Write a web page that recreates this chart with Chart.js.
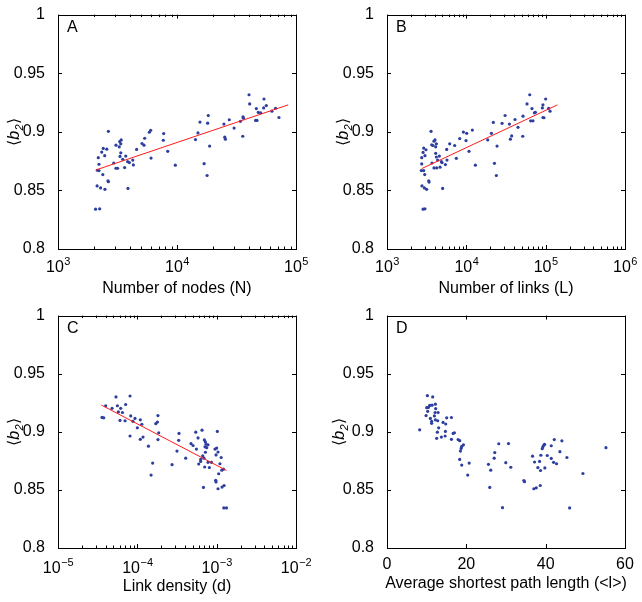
<!DOCTYPE html>
<html>
<head>
<meta charset="utf-8">
<script src="https://cdn.jsdelivr.net/npm/chart.js@4.4.1/dist/chart.umd.min.js"></script>
<style>
  html, body { margin: 0; padding: 0; background: #fff; }
  #wrap { position: relative; width: 642px; height: 602px; }
  canvas { position: absolute; }
</style>
</head>
<body>
<div id="wrap">
  <canvas id="cA" width="321" height="301" style="left:0;top:0"></canvas>
  <canvas id="cB" width="321" height="301" style="left:321px;top:0"></canvas>
  <canvas id="cC" width="321" height="301" style="left:0;top:301px"></canvas>
  <canvas id="cD" width="321" height="301" style="left:321px;top:301px"></canvas>
</div>
<script>
// y axis, shared by all panels
const yTicks = [0.8, 0.85, 0.9, 0.95, 1];

// A: number of nodes
const nodesN = [2650, 6010, 5850, 7730, 18300, 15600, 18100, 15000, 14300, 7670, 5350, 5080, 5280, 4580, 8360, 6050, 9680, 3400, 3300, 3370,
  3270, 3070, 2400, 2570, 2330, 2180, 2470, 3370, 3320, 3500, 3710, 3850, 3980, 4250, 4300, 3630, 3170, 3070, 2940, 2210,
  2140, 2210, 2380, 2630, 2650, 2130, 2280, 2480, 3870, 2070, 2240, 18800, 16900, 17900, 25200, 25500, 24800, 27500, 30200, 34100,
  35900, 35700, 36100, 40800, 46400, 45800, 47000, 48200, 50500, 53500, 56300, 62800, 67400, 71900, 40300, 53800];
const b2A = [0.9004, 0.9013, 0.8996, 0.8985, 0.9139, 0.9083, 0.9074, 0.8990, 0.8934, 0.8928, 0.8945, 0.8900, 0.8886, 0.8850, 0.8833, 0.8776, 0.8715, 0.8931, 0.8917, 0.8897,
  0.8872, 0.8886, 0.8858, 0.8852, 0.8827, 0.8779, 0.8796, 0.8821, 0.8790, 0.8765, 0.8793, 0.8745, 0.8737, 0.8759, 0.8717, 0.8695, 0.8689, 0.8689, 0.8734, 0.8723,
  0.8672, 0.8669, 0.8635, 0.8582, 0.8574, 0.8538, 0.8521, 0.8509, 0.8517, 0.8340, 0.8343, 0.8878, 0.8728, 0.8627, 0.8954, 0.8937, 0.9066, 0.9103, 0.9032, 0.9089,
  0.9128, 0.8962, 0.9116, 0.9238, 0.9198, 0.9097, 0.9097, 0.9165, 0.9162, 0.9204, 0.9224, 0.9176, 0.9201, 0.9122, 0.9316, 0.9280];
const fitAx = [2090, 86000];
const fitAy = [0.8675, 0.923];
const ticksA = [1e3, 1e4, 1e5];

// B: number of links
const linksL = [3590, 11900, 9180, 10100, 58200, 30800, 21900, 28200, 34900, 41100, 51800, 67200, 72100, 90900, 92400, 109000, 113500, 92400, 95200, 64700,
  69200, 74200, 44800, 37300, 35900, 51400, 20700, 18600, 24400, 22600, 23900, 13000, 10800, 9910, 8250, 7130, 6170, 5660, 7480, 5700,
  5450, 4940, 5030, 4190, 3910, 4030, 4110, 3800, 3660, 2900, 3100, 2850, 2740, 3010, 4110, 4190, 4570, 4350, 4850, 3690,
  2740, 3910, 4230, 4660, 2710, 2900, 2990, 3360, 3390, 2760, 2960, 3160, 2850, 3010, 63000, 100000];
const b2B = [0.9004, 0.9015, 0.8998, 0.8987, 0.9238, 0.9139, 0.9080, 0.9072, 0.9066, 0.9105, 0.9133, 0.9198, 0.9162, 0.9204, 0.9230, 0.9200, 0.9176, 0.9122, 0.9120, 0.9094,
  0.9094, 0.9167, 0.9038, 0.8965, 0.8937, 0.8962, 0.8987, 0.8931, 0.8878, 0.8731, 0.8627, 0.8715, 0.8833, 0.8925, 0.8942, 0.8883, 0.8897, 0.8850, 0.8774, 0.8759,
  0.8720, 0.8737, 0.8517, 0.8897, 0.8920, 0.8931, 0.8872, 0.8883, 0.8889, 0.8861, 0.8847, 0.8824, 0.8779, 0.8796, 0.8816, 0.8785, 0.8793, 0.8759, 0.8745, 0.8734,
  0.8726, 0.8692, 0.8692, 0.8698, 0.8669, 0.8669, 0.8635, 0.8582, 0.8571, 0.8538, 0.8521, 0.8509, 0.8340, 0.8343, 0.9316, 0.9280];
const fitBx = [2740, 140600];
const fitBy = [0.8686, 0.923];
const ticksB = [1e3, 1e4, 1e5, 1e6];

// C: link density
const densityD = [5.38e-5, 8.09e-5, 3.99e-5, 4.80e-5, 5.61e-5, 6.17e-5, 7.13e-5, 5.77e-5, 6.49e-5, 3.59e-5, 3.77e-5, 6.05e-5, 7.0e-5, 8.25e-5, 9.35e-5, 1.09e-4, 8.81e-5, 1.14e-4, 1.0e-4, 1.82e-4,
  1.79e-4, 1.71e-4, 1.86e-4, 1.82e-4, 8.09e-5, 1.18e-4, 1.09e-4, 1.38e-4, 1.56e-4, 1.49e-4, 2.74e-4, 3.16e-4, 3.35e-4, 3.32e-4, 4.07e-4, 4.75e-4, 5.04e-4, 5.45e-4, 6.54e-4, 5.82e-4,
  5.56e-4, 7.0e-4, 7.21e-4, 7.35e-4, 7.78e-4, 7.13e-4, 7.49e-4, 1.02e-3, 9.53e-4, 1.0e-3, 1.04e-3, 9.82e-4, 1.14e-3, 7.21e-4, 6.67e-4, 6.92e-4, 6.29e-4, 6.29e-4, 5.94e-4, 7.78e-4,
  8.59e-4, 1.10e-3, 7.06e-4, 8.09e-4, 1.16e-3, 1.22e-3, 1.06e-3, 9.73e-4, 9.82e-4, 1.24e-3, 1.17e-3, 1.04e-3, 6.81e-4, 1.23e-3, 1.33e-3];
const b2C = [0.930, 0.9308, 0.9224, 0.9202, 0.9224, 0.9202, 0.9235, 0.9171, 0.9166, 0.9124, 0.912, 0.9098, 0.9095, 0.9137, 0.9115, 0.9103, 0.909, 0.9065, 0.9034, 0.914,
  0.9084, 0.907, 0.8992, 0.8933, 0.8964, 0.8955, 0.8935, 0.8876, 0.8731, 0.8628, 0.8717, 0.8834, 0.8986, 0.8927, 0.8773, 0.8899, 0.8882, 0.8997, 0.9014, 0.8947,
  0.8851, 0.893, 0.8913, 0.8893, 0.8888, 0.8871, 0.8863, 0.9003, 0.8851, 0.886, 0.8826, 0.8801, 0.8779, 0.8824, 0.8792, 0.8773, 0.8762, 0.8745, 0.8723, 0.8737,
  0.8737, 0.8725, 0.8697, 0.8692, 0.867, 0.8678, 0.8639, 0.8582, 0.8569, 0.8538, 0.8524, 0.851, 0.8521, 0.8345, 0.8345];
const fitCx = [3.52e-5, 1.33e-3];
const fitCy = [0.923, 0.8667];
const ticksC = [1e-5, 1e-4, 1e-3, 1e-2];

// D: average shortest path length
const pathL = [10.18, 11.52, 8.24, 10.0, 10.43, 10.77, 11.36, 12.2, 12.28, 10.26, 12.12, 12.88, 9.85, 11.95, 10.93, 12.2, 12.78, 11.26, 11.26, 14.14,
  14.8, 15.05, 16.24, 13.03, 14.72, 12.7, 13.71, 14.65, 12.53, 16.67, 17.0, 16.24, 17.93, 18.33, 19.27, 18.84, 18.69, 18.51, 18.33, 20.71,
  18.84, 20.35, 28.18, 30.63, 27.17, 27.02, 25.58, 26.16, 29.95, 31.21, 25.91, 29.12, 34.5, 34.67, 37.02, 37.63, 38.64, 36.69, 37.2, 38.46,
  38.03, 38.71, 39.8, 38.79, 39.14, 39.3, 39.55, 39.72, 40.4, 41.41, 42.17, 41.41, 42.0, 42.75, 43.59, 44.09, 45.35, 49.39, 46.04, 55.2];
const b2D = [0.9311, 0.93, 0.9017, 0.9208, 0.921, 0.9227, 0.9229, 0.9238, 0.9199, 0.9176, 0.9166, 0.9166, 0.914, 0.9137, 0.9115, 0.9103, 0.9095, 0.909, 0.9073, 0.9081,
  0.9067, 0.912, 0.9123, 0.9034, 0.9003, 0.8997, 0.8955, 0.8964, 0.8944, 0.8986, 0.8992, 0.8935, 0.8933, 0.8924, 0.8888, 0.8874, 0.8857, 0.8834, 0.8762, 0.8731,
  0.8714, 0.8628, 0.8897, 0.8899, 0.8821, 0.8773, 0.872, 0.867, 0.8734, 0.8695, 0.8521, 0.8347, 0.858, 0.8571, 0.851, 0.8518, 0.8538, 0.879, 0.874, 0.8745,
  0.8692, 0.8667, 0.8689, 0.8798, 0.8855, 0.8871, 0.8885, 0.8893, 0.8796, 0.888, 0.8933, 0.8771, 0.8737, 0.8725, 0.8829, 0.8922, 0.8779, 0.8641, 0.8345, 0.8863];
const ticksD = [0, 20, 40, 60];

const FONT = '"Liberation Sans", Arial, Helvetica, sans-serif';
const W = 321, H = 301;

// minor ticks 2..9 between decades for log axes
function logTicks(majors) {
  const out = [];
  majors.forEach((m, i) => {
    out.push({ value: m, major: true });
    if (i < majors.length - 1) for (let k = 2; k <= 9; k++) out.push({ value: m * k, major: false });
  });
  return out;
}

// box, inward ticks, tick labels with superscripts, axis titles
const frame = {
  id: 'frame',
  afterDraw(chart, args, o) {
    const { ctx, chartArea: a } = chart;
    const xs = chart.scales.x, ys = chart.scales.y;
    ctx.save();
    ctx.strokeStyle = '#000';
    ctx.lineWidth = 1;
    ctx.strokeRect(Math.round(a.left) + 0.5, Math.round(a.top) + 0.5,
      Math.round(a.right - a.left), Math.round(a.bottom - a.top));
    ctx.beginPath();
    xs.ticks.forEach(t => {
      const p = Math.round(xs.getPixelForValue(t.value)) + 0.5;
      const len = t.major ? 4 : 2.5;
      ctx.moveTo(p, a.bottom); ctx.lineTo(p, a.bottom - len);
      ctx.moveTo(p, a.top); ctx.lineTo(p, a.top + len);
    });
    ys.ticks.forEach(t => {
      const p = Math.round(ys.getPixelForValue(t.value)) + 0.5;
      ctx.moveTo(a.left, p); ctx.lineTo(a.left + 4, p);
      ctx.moveTo(a.right, p); ctx.lineTo(a.right - 4, p);
    });
    ctx.stroke();

    ctx.fillStyle = '#000';
    ctx.textBaseline = 'alphabetic';
    // x tick labels
    xs.ticks.filter(t => t.major).forEach(t => {
      const p = xs.getPixelForValue(t.value);
      if (o.log) {
        const e = Math.round(Math.log10(t.value));
        const es = e < 0 ? '\u2212' + (-e) : String(e);
        ctx.font = '16px ' + FONT;
        const w1 = ctx.measureText('10').width;
        ctx.font = '11px ' + FONT;
        const w2 = ctx.measureText(es).width;
        const x0 = p - (w1 + w2) / 2;
        ctx.textAlign = 'left';
        ctx.font = '16px ' + FONT;
        ctx.fillText('10', x0, a.bottom + o.tickOff);
        ctx.font = '11px ' + FONT;
        ctx.fillText(es, x0 + w1 + 0.5, a.bottom + o.tickOff - 7);
      } else {
        ctx.textAlign = 'center';
        ctx.font = '16px ' + FONT;
        ctx.fillText(String(t.value), p, a.bottom + o.tickOff);
      }
    });
    // x title
    ctx.textAlign = 'center';
    ctx.font = '16px ' + FONT;
    ctx.fillText(o.xTitle, (a.left + a.right) / 2, a.bottom + o.titleOff);
    // panel letter
    ctx.textAlign = 'left';
    ctx.fillText(o.letter, a.left + 9, a.top + 17.5);
    // y title <b2>
    ctx.translate(a.left - o.yTitleOff, (a.top + a.bottom) / 2);
    ctx.rotate(-Math.PI / 2);
    const parts = [
      ['\u27E8', '16px ' + FONT, 0],
      ['b', 'italic 16px ' + FONT, 0],
      ['2', 'italic 11px ' + FONT, 4],
      ['\u27E9', '16px ' + FONT, 0]
    ];
    let tw = 0;
    parts.forEach(q => { ctx.font = q[1]; tw += ctx.measureText(q[0]).width + 0.5; });
    let cx = -tw / 2;
    parts.forEach(q => {
      ctx.font = q[1];
      ctx.fillText(q[0], cx, q[2]);
      cx += ctx.measureText(q[0]).width + 0.5;
    });
    ctx.restore();
  }
};

function panel(id, cfg) {
  const pts = cfg.xs.map((v, i) => ({ x: v, y: cfg.ys[i] }));
  const datasets = [];
  if (cfg.fx) {
    datasets.push({
      type: 'line', data: cfg.fx.map((v, i) => ({ x: v, y: cfg.fy[i] })),
      borderColor: '#ff1a1a', borderWidth: 1, pointRadius: 0, showLine: true, fill: false
    });
  }
  datasets.push({
    data: pts, pointStyle: 'circle', pointRadius: 1.6, pointBorderWidth: 0,
    backgroundColor: '#2d3f9e', borderColor: '#2d3f9e'
  });
  const xTickObjs = cfg.log ? logTicks(cfg.ticks) : cfg.ticks.map(v => ({ value: v, major: true }));
  new Chart(document.getElementById(id), {
    type: 'scatter',
    data: { datasets },
    options: {
      responsive: false,
      animation: false,
      events: [],
      layout: { padding: { left: 0, top: cfg.area.t, right: W - cfg.area.r, bottom: 0 } },
      plugins: {
        legend: { display: false },
        tooltip: { enabled: false },
        frame: { log: cfg.log, xTitle: cfg.xTitle, letter: cfg.letter, tickOff: cfg.tickOff, titleOff: cfg.titleOff, yTitleOff: cfg.yTitleOff }
      },
      scales: {
        x: {
          type: cfg.log ? 'logarithmic' : 'linear',
          min: cfg.ticks[0], max: cfg.ticks[cfg.ticks.length - 1],
          grid: { display: false }, border: { display: false },
          ticks: { display: false },
          afterBuildTicks: s => { s.ticks = xTickObjs.map(t => ({ value: t.value, major: t.major })); },
          afterFit: s => { s.height = H - cfg.area.b; }
        },
        y: {
          min: 0.8, max: 1,
          grid: { display: false }, border: { display: false },
          ticks: {
            color: '#000', padding: 5, autoSkip: false,
            font: { family: FONT, size: 16 },
            callback: v => String(Number(v.toFixed(2)))
          },
          afterBuildTicks: s => { s.ticks = yTicks.map(v => ({ value: v })); },
          afterFit: s => { s.width = cfg.area.l; }
        }
      }
    },
    plugins: [frame]
  });
}

panel('cA', { xs: nodesN, ys: b2A, fx: fitAx, fy: fitAy, log: true, ticks: ticksA, letter: 'A',
  xTitle: 'Number of nodes (N)', area: { l: 58, t: 12, r: 296, b: 249 }, tickOff: 23, titleOff: 44, yTitleOff: 39 });
panel('cB', { xs: linksL, ys: b2B, fx: fitBx, fy: fitBy, log: true, ticks: ticksB, letter: 'B',
  xTitle: 'Number of links (L)', area: { l: 66, t: 12, r: 304, b: 249 }, tickOff: 23, titleOff: 44, yTitleOff: 39 });
panel('cC', { xs: densityD, ys: b2C, fx: fitCx, fy: fitCy, log: true, ticks: ticksC, letter: 'C',
  xTitle: 'Link density (d)', area: { l: 58, t: 9, r: 296, b: 247 }, tickOff: 25, titleOff: 43, yTitleOff: 39 });
panel('cD', { xs: pathL, ys: b2D, log: false, ticks: ticksD, letter: 'D',
  xTitle: 'Average shortest path length (<l>)', area: { l: 66, t: 9, r: 304, b: 247 }, tickOff: 21, titleOff: 40, yTitleOff: 43 });
</script>
</body>
</html>
